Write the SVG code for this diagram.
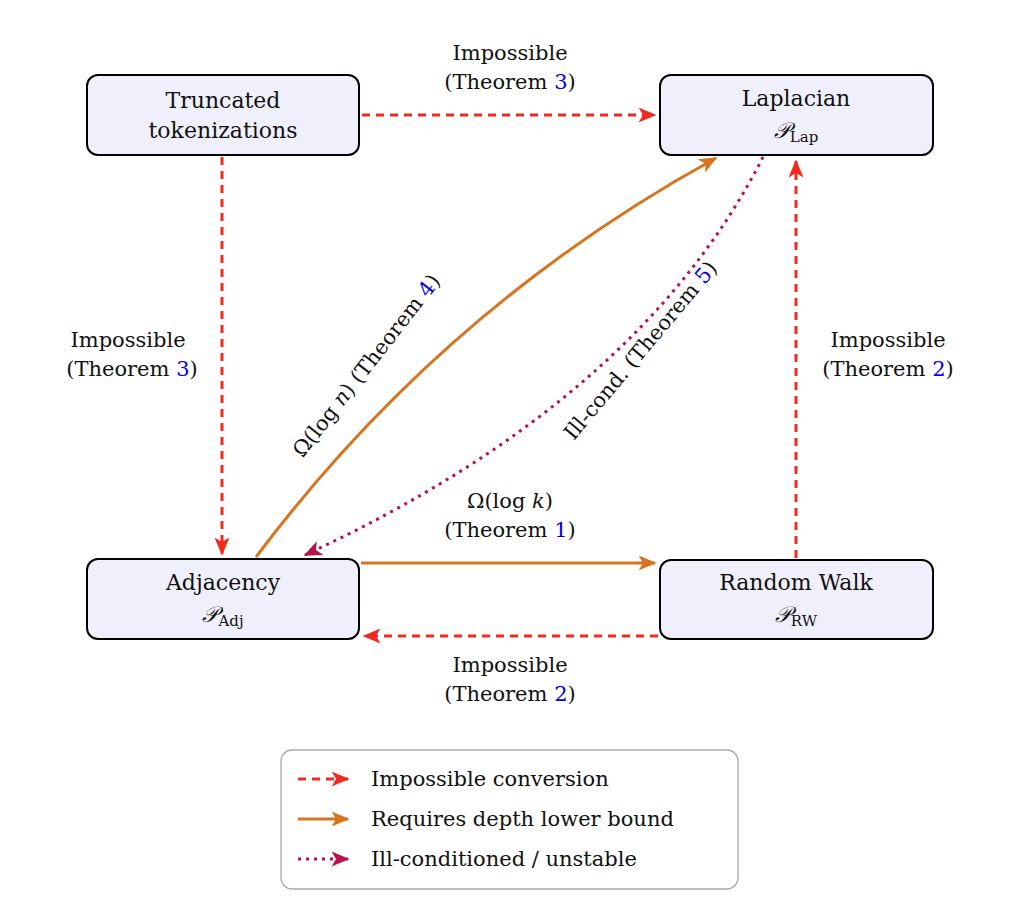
<svg xmlns="http://www.w3.org/2000/svg" width="1028" height="922" viewBox="0 0 1028 922">
<defs>
<style>
text{font-family:"DejaVu Serif","Liberation Serif",serif;font-size:21px;fill:#111;text-anchor:middle}
.node{fill:#f0f0fc;stroke:#000;stroke-width:2}
.nt{font-size:22px}
.b{fill:#0000ee}
.imp{fill:none;stroke:#f22a1f;stroke-width:3;stroke-dasharray:8,6}
.dep{fill:none;stroke:#d8731e;stroke-width:3}
.ill{fill:none;stroke:#b8124c;stroke-width:3;stroke-dasharray:3,5}
.lt{text-anchor:start}
.sub{font-size:15px}
</style>
<marker id="mr" viewBox="0 0 12 10" refX="11" refY="5" markerWidth="6" markerHeight="5" orient="auto" markerUnits="strokeWidth"><path d="M0,0 L12,5 L0,10 L3,5 Z" fill="#f22a1f"/></marker>
<marker id="mo" viewBox="0 0 12 10" refX="11" refY="5" markerWidth="6" markerHeight="5" orient="auto" markerUnits="strokeWidth"><path d="M0,0 L12,5 L0,10 L3,5 Z" fill="#d8731e"/></marker>
<marker id="mp" viewBox="0 0 12 10" refX="11" refY="5" markerWidth="6" markerHeight="5" orient="auto" markerUnits="strokeWidth"><path d="M0,0 L12,5 L0,10 L3,5 Z" fill="#b8124c"/></marker>
</defs>
<rect width="1028" height="922" fill="#fff"/>
<g id="connectors">
<path class="imp" d="M362,115 H655" marker-end="url(#mr)"/>
<path class="imp" d="M222,157 V554" marker-end="url(#mr)"/>
<path class="imp" d="M796,558 V161" marker-end="url(#mr)"/>
<path class="imp" d="M658,636 H364" marker-end="url(#mr)"/>
<path class="dep" d="M361,563 H655" marker-end="url(#mo)"/>
<path class="dep" d="M256,557 Q443,308 716,158" marker-end="url(#mo)"/>
<path class="ill" d="M763,157 Q640,400 305,555" marker-end="url(#mp)"/>
<text x="510" y="60">Impossible</text><text x="510" y="89">(Theorem <tspan class="b">3</tspan>)</text>
<text x="128" y="347">Impossible</text><text x="132" y="376">(Theorem <tspan class="b">3</tspan>)</text>
<text x="888" y="347">Impossible</text><text x="888" y="376">(Theorem <tspan class="b">2</tspan>)</text>
<text x="510" y="508">Ω(log <tspan font-style="italic">k</tspan>)</text><text x="510" y="537">(Theorem <tspan class="b">1</tspan>)</text>
<text x="510" y="672">Impossible</text><text x="510" y="701">(Theorem <tspan class="b">2</tspan>)</text>
<text transform="translate(372,370) rotate(-52)">Ω(log <tspan font-style="italic">n</tspan>) (Theorem <tspan class="b">4</tspan>)</text>
<text transform="translate(646,355) rotate(-50)">Ill-cond. (Theorem <tspan class="b">5</tspan>)</text>
</g>
<g id="trunc"><rect class="node" x="87" y="75" width="272" height="80" rx="11"/><text class="nt" x="223" y="108">Truncated</text><text class="nt" x="223" y="138">tokenizations</text></g>
<g id="lap"><rect class="node" x="660" y="75" width="273" height="80" rx="11"/><text class="nt" x="796" y="106">Laplacian</text><text class="nt" x="796" y="138"><tspan font-style="italic">𝒫</tspan><tspan class="sub" dy="4">Lap</tspan></text></g>
<g id="adj"><rect class="node" x="87" y="559" width="272" height="80" rx="11"/><text class="nt" x="223" y="590">Adjacency</text><text class="nt" x="223" y="622"><tspan font-style="italic">𝒫</tspan><tspan class="sub" dy="4">Adj</tspan></text></g>
<g id="rw"><rect class="node" x="660" y="560" width="273" height="79" rx="11"/><text class="nt" x="796" y="590">Random Walk</text><text class="nt" x="796" y="622"><tspan font-style="italic">𝒫</tspan><tspan class="sub" dy="4">RW</tspan></text></g>
<g id="legend">
<rect x="281" y="750" width="457" height="139" rx="11" fill="#fff" stroke="#aaa" stroke-width="1.3"/>
<path class="imp" d="M298,779 H348" marker-end="url(#mr)"/>
<path class="dep" d="M298,819 H348" marker-end="url(#mo)"/>
<path class="ill" d="M298,859 H348" marker-end="url(#mp)"/>
<text class="lt" x="371" y="786">Impossible conversion</text>
<text class="lt" x="371" y="826">Requires depth lower bound</text>
<text class="lt" x="371" y="866">Ill-conditioned / unstable</text>
</g>
</svg>
